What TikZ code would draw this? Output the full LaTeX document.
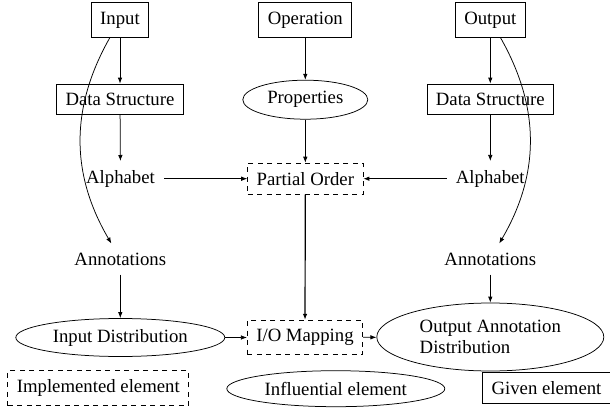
\documentclass[tikz,border=0pt]{standalone}
\usepackage{fontspec}
\setmainfont{Liberation Serif}
\newfontfamily\diagfont{Liberation Serif}
\usetikzlibrary{arrows.meta,shapes.geometric}
\begin{document}
\begin{tikzpicture}[x=1pt,y=-1pt,
  every node/.style={font=\diagfont\fontsize{18.75}{20.5}\selectfont, inner sep=9pt},
  given/.style={draw, line width=0.75pt},
  impl/.style={draw, dash pattern=on 5pt off 4.5pt, line width=0.75pt},
  infl/.style={draw, ellipse, inner sep=0pt, line width=0.75pt},
  arr/.style={-{Latex[length=6pt,width=4.5pt]}, line width=0.75pt},
]
\useasboundingbox (0,0) rectangle (610,409);
% top row
\node[given] (in) at (120,20) {Input};
\node[given] (op) at (305.3,20) {Operation};
\node[given] (out) at (490.3,20) {Output};
% second row
\node[given] (dsl) at (120,99.3) {Data Structure};
\node[infl, minimum width=125pt, minimum height=39pt] (prop) at (305.3,99.7) {Properties};
\node[given] (dsr) at (490.3,99.3) {Data Structure};
% third row
\node (al) at (120.5,178.7) {Alphabet};
\node[impl] (po) at (305.3,178.7) {Partial Order};
\node (ar) at (490.3,178.7) {Alphabet};
% fourth row
\node (anl) at (120.3,259) {Annotations};
\node (anr) at (490.3,259) {Annotations};
% fifth row
\node[infl, minimum width=209pt, minimum height=38pt] (id) at (120.3,337.5) {Input Distribution};
\node[impl] (io) at (305,337.5) {I/O Mapping};
\node[infl, minimum width=227pt, minimum height=68pt, align=left] (od) at (490.3,337) {Output Annotation\\Distribution};
% legend
\node[impl] (l1) at (98.3,388.3) {Implemented element};
\node[infl, minimum width=218pt, minimum height=36pt] (l2) at (335.8,388.7) {Influential element};
\node[given, minimum width=126pt] (l3) at (546.5,388) {Given element};
% connectors
\draw[arr] (in) -- (dsl);
\draw[arr] (dsl) -- (al);
\draw[arr] (al) -- (po);
\draw[arr] (op) -- (prop);
\draw[arr] (prop) -- (po);
\draw[arr] (out) -- (dsr);
\draw[arr] (dsr) -- (ar);
\draw[arr] (ar) -- (po);
\draw[arr] (in) to[bend right] (anl);
\draw[arr] (out) to[bend left] (anr);
\draw[arr] (anl) -- (id);
\draw[arr] (anr) -- (od);
\draw[arr, line width=1.2pt] (po) -- (io);
\draw[arr] (id) -- (io);
\draw[arr] (io) -- (od);
\end{tikzpicture}
\end{document}
